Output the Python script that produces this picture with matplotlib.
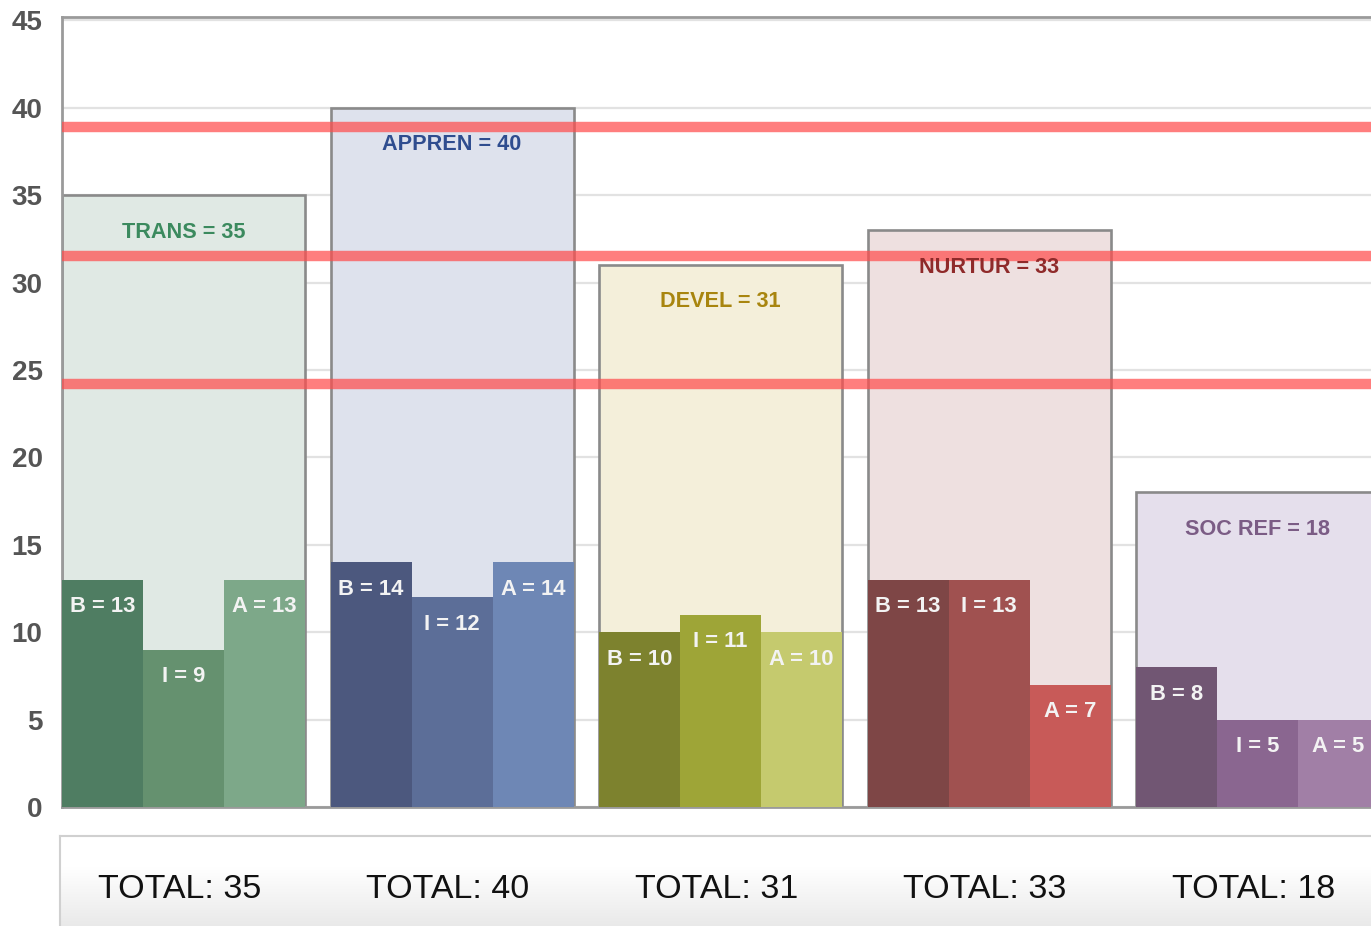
import matplotlib
matplotlib.use("Agg")
import matplotlib.pyplot as plt
import numpy as np

categories = ["TRANS", "APPREN", "DEVEL", "NURTUR", "SOC REF"]
totals = [35, 40, 31, 33, 18]
b_vals = [13, 14, 10, 13, 8]
i_vals = [9, 12, 11, 13, 5]
a_vals = [13, 14, 10, 7, 5]
sub_names = ["B", "I", "A"]
ref_lines = [38.9, 31.5, 24.2]
y_ticks = [0, 5, 10, 15, 20, 25, 30, 35, 40, 45]

outer_fill = ["#E0E9E4", "#DEE2ED", "#F4EFDA", "#EEE0E0", "#E5DFEC"]
label_col = ["#3B8A5E", "#2F4D8F", "#A8850F", "#8F2A2A", "#7B5C85"]
sub_cols = [
    ["#4F7D62", "#65916F", "#7DA889"],
    ["#4C587E", "#5C6E98", "#6E87B5"],
    ["#7D822E", "#9EA537", "#C5CA6E"],
    ["#7E4646", "#A05150", "#C85A58"],
    ["#715673", "#8A6690", "#A17FA6"],
]

plt.rcParams['font.family'] = ['Liberation Sans', 'DejaVu Sans']

W, H = 1371, 926
fig = plt.figure(figsize=(W / 100, H / 100), dpi=100)

px_unit = 268.5
gw = 243 / px_unit
left_px, right_px = 62, 1400
x0 = -gw / 2
x1 = x0 + (right_px - left_px) / px_unit

ax = fig.add_axes([left_px / W, 1 - 807 / H, (right_px - left_px) / W, (807 - 17) / H])
ax.set_xlim(x0, x1)
ax.set_ylim(0, 45.2)
ax.set_yticks(y_ticks)
ax.set_xticks([])
ax.tick_params(axis='y', length=0, pad=14, labelsize=20, labelcolor="#555555")
for lab in ax.get_yticklabels():
    lab.set_fontweight('bold')
ax.yaxis.grid(True, color="#e2e2e2", linewidth=1.6, zorder=0)
ax.set_axisbelow(True)
for s in ['left', 'top', 'bottom']:
    ax.spines[s].set_color("#9a9a9a")
    ax.spines[s].set_linewidth(2.0)
ax.spines['right'].set_visible(False)

xs = np.arange(len(categories))
sw = gw / 3
subs = [b_vals, i_vals, a_vals]

ax.bar(xs, totals, width=gw, color=outer_fill, edgecolor="#8a8a8a", linewidth=1.9, zorder=2)
for k in range(3):
    vals = subs[k]
    ax.bar(xs + (k - 1) * sw, vals, width=sw, color=[sub_cols[g][k] for g in range(len(categories))],
           linewidth=0, zorder=3)
    for g in range(len(categories)):
        ax.annotate(f"{sub_names[k]} = {vals[g]}", (xs[g] + (k - 1) * sw, vals[g]),
                    xytext=(0, -19.5), textcoords='offset points', ha='center', va='center',
                    fontsize=15.8, fontweight='bold', color="#f3f3f3", zorder=5)

for g in range(len(categories)):
    ax.annotate(f"{categories[g]} = {totals[g]}", (xs[g], totals[g]),
                xytext=(0, -26.5), textcoords='offset points', ha='center', va='center',
                fontsize=15.6, fontweight='bold', color=label_col[g], zorder=5)

for r in ref_lines:
    ax.axhline(r, color="#ff4d4d", alpha=0.72, linewidth=7.5, zorder=4)

# bottom totals box
bl = 60
ax2 = fig.add_axes([bl / W, 0, (right_px - bl) / W, (926 - 836) / H])
ax2.set_xlim(x0 - (left_px - bl) / px_unit, x1)
ax2.set_ylim(0, 1)
t = np.linspace(0, 1, 100)
grad = np.where(t < 0.35, 1.0, 1.0 - (t - 0.35) / 0.65 * 0.085).reshape(-1, 1)
ax2.imshow(np.repeat(grad[:, :, None], 3, axis=2), extent=(ax2.get_xlim()[0], x1, 0, 1),
           aspect='auto', origin='upper', zorder=0)
ax2.set_xticks([])
ax2.set_yticks([])
for s in ['right', 'bottom']:
    ax2.spines[s].set_visible(False)
for s in ['left', 'top']:
    ax2.spines[s].set_color("#d0d0d0")
    ax2.spines[s].set_linewidth(1.5)
for g in range(len(categories)):
    ax2.text(xs[g] - 0.015, 0.41, f"TOTAL: {totals[g]}", ha='center', va='center',
             fontsize=24.5, color="#111111")

fig.savefig("out.png", dpi=100)
